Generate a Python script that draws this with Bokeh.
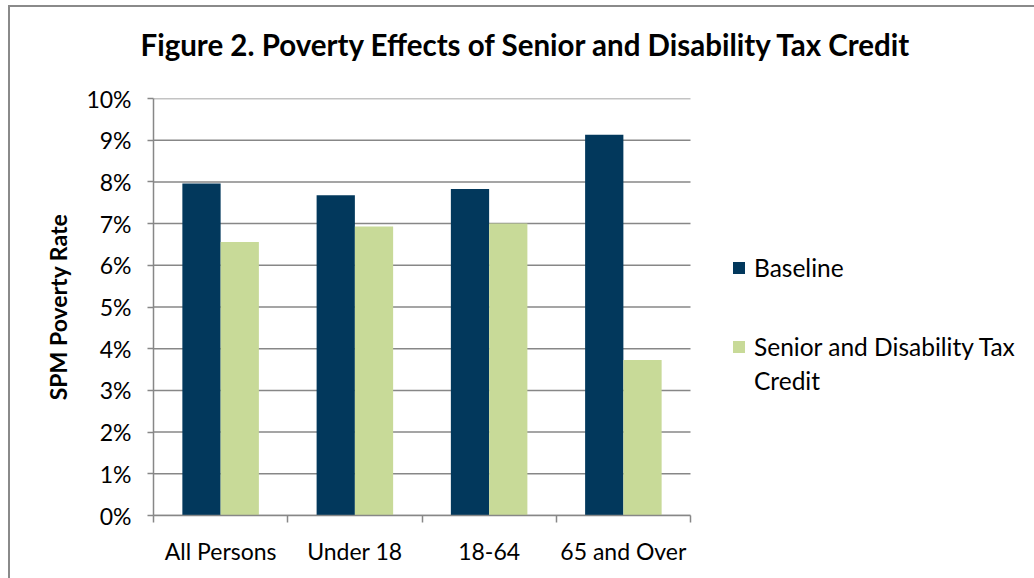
from bokeh.plotting import figure
from bokeh.models import (FixedTicker, PrintfTickFormatter, Legend, LegendItem,
                          Title, ColumnDataSource)
from bokeh.transform import dodge
from bokeh.embed import file_html
from bokeh.resources import INLINE

# ---- data ----
categories = ["All Persons", "Under 18", "18-64", "65 and Over"]
baseline = [7.96, 7.68, 7.83, 9.13]
credit = [6.56, 6.93, 7.00, 3.73]
series_names = ["Baseline", "Senior and Disability Tax", "Credit"]
y_ticks = [0, 1, 2, 3, 4, 5, 6, 7, 8, 9, 10]
title_text = "Figure 2. Poverty Effects of Senior and Disability Tax Credit"
y_label = "SPM Poverty Rate"

FONT = "Lato"
GRAY = "#878787"
NAVY = "#02385C"
GREEN = "#C8DA98"

n = len(categories)
PLOT_W = 537          # pixel width of the bar area
FRAME_W = 881         # frame extends to the right edge so the legend fits inside
x_end = n * FRAME_W / PLOT_W

centers = [i + 0.5 for i in range(n)]
src = ColumnDataSource(dict(x=centers, base=baseline, cred=credit))

p = figure(frame_width=FRAME_W, frame_height=417, output_backend="svg",
           toolbar_location=None, x_range=(0, x_end), y_range=(0, 10),
           min_border_left=153, min_border_right=0, min_border_top=98,
           min_border_bottom=63, background_fill_color="white",
           border_fill_color=None, outline_line_color=None)

# outer chart frame (drawn behind the transparent canvas border area)
p.styles = {
    "background": ("linear-gradient(#8a8a8a,#8a8a8a) 8px 5px / 2px 100% no-repeat, "
                   "linear-gradient(#8a8a8a,#8a8a8a) 8px 5px / 100% 2px no-repeat, white")
}

# horizontal grid lines, limited to the bar area
p.segment(x0=0, x1=n, y0="y", y1="y", source=ColumnDataSource(dict(y=y_ticks)),
          line_color=GRAY, line_width=1.5, level="underlay")

bw = 0.285
r1 = p.vbar(x=dodge("x", -bw / 2), top="base", width=bw, source=src,
            fill_color=NAVY, line_color=None)
r2 = p.vbar(x=dodge("x", bw / 2), top="cred", width=bw, source=src,
            fill_color=GREEN, line_color=None)
# empty, invisible renderer used only for the continuation line of the legend
r3 = p.vbar(x="x", top="top", width=bw, source=ColumnDataSource(dict(x=[], top=[])),
            fill_alpha=0, line_alpha=0)

# y axis
yax = p.yaxis[0]
yax.ticker = FixedTicker(ticks=y_ticks)
yax.formatter = PrintfTickFormatter(format="%d%%")
yax.axis_line_color = GRAY
yax.axis_line_width = 1.5
yax.major_tick_line_color = GRAY
yax.major_tick_line_width = 1.5
yax.major_tick_out = 6
yax.major_tick_in = 0
yax.minor_tick_line_color = None
yax.major_label_text_font = FONT
yax.major_label_text_font_size = "23px"
yax.major_label_text_color = "#000000"
yax.major_label_standoff = 16
yax.axis_label = y_label
yax.axis_label_text_font = FONT
yax.axis_label_text_font_style = "bold"
yax.axis_label_text_font_size = "23px"
yax.axis_label_text_color = "#000000"
yax.axis_label_standoff = 11

# x axis: labels at centers, ticks at category boundaries
xax = p.xaxis[0]
xax.bounds = (0, n)
xax.ticker = FixedTicker(ticks=centers, minor_ticks=list(range(n + 1)))
xax.major_label_overrides = {c: name for c, name in zip(centers, categories)}
xax.axis_line_color = GRAY
xax.axis_line_width = 1.5
xax.major_tick_line_color = None
xax.major_tick_out = 0
xax.major_tick_in = 0
xax.minor_tick_line_color = GRAY
xax.minor_tick_line_width = 1.5
xax.minor_tick_out = 7
xax.minor_tick_in = 0
xax.major_label_text_font = FONT
xax.major_label_text_font_size = "23px"
xax.major_label_text_color = "#000000"
xax.major_label_standoff = 14

p.xgrid.grid_line_color = None
p.ygrid.grid_line_color = None

# blank spacer (closest to the frame) then the real title above it
spacer = Title(text="\u00a0", text_font_size="10px", text_color="white", standoff=24)
p.add_layout(spacer, "above")
t = Title(text=title_text, align="left", offset=-13, text_font=FONT,
          text_font_style="bold", text_font_size="29.5px", text_color="#000000",
          standoff=0)
p.add_layout(t, "above")

common = dict(orientation="vertical", label_text_font=FONT,
              label_text_font_size="24.5px", label_text_color="#000000",
              glyph_width=15, glyph_height=15, label_standoff=8, padding=0,
              margin=0, border_line_color=None, background_fill_alpha=0)

legend_a = Legend(items=[LegendItem(label=series_names[0], renderers=[r1]),
                         LegendItem(label=series_names[1], renderers=[r2])],
                  location=(578, 154), spacing=50, **common)
legend_b = Legend(items=[LegendItem(label=series_names[2], renderers=[r3])],
                  location=(578, 120), **common)
p.add_layout(legend_a)
p.add_layout(legend_b)

open("out.html", "w").write(file_html(p, INLINE))
